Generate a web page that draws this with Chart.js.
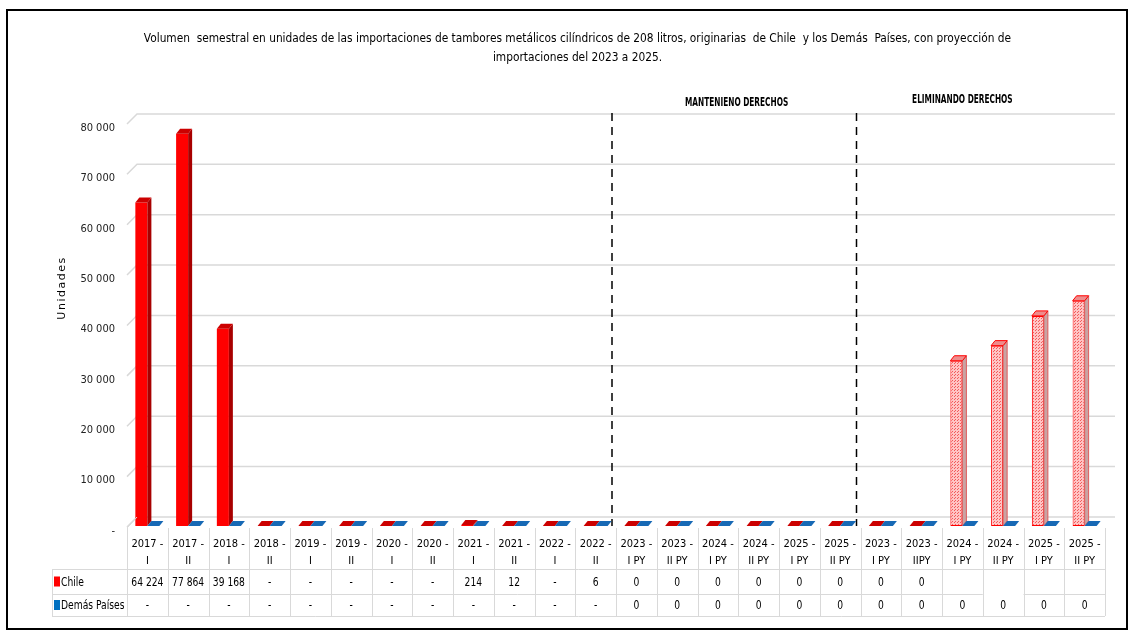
<!DOCTYPE html>
<html>
<head>
    <title>Importaciones tambores metálicos 208 litros</title>
    <script src="https://cdn.jsdelivr.net/npm/chart.js"></script>
    <style>
        body {
            margin: 0;
            background-color: #fff;
        }
        #wrap {
            position: relative;
            width: 1130px;
            height: 633px;
        }
    </style>
</head>
<body>
    <div id="wrap"><canvas id="chart" width="1130" height="633"></canvas></div>

    <script>
        // Categories (semesters), real + projection
        var categories = [
            ['2017 -', 'I'], ['2017 -', 'II'], ['2018 -', 'I'], ['2018 -', 'II'],
            ['2019 -', 'I'], ['2019 -', 'II'], ['2020 -', 'I'], ['2020 -', 'II'],
            ['2021 -', 'I'], ['2021 -', 'II'], ['2022 -', 'I'], ['2022 -', 'II'],
            ['2023 -', 'I PY'], ['2023 -', 'II PY'], ['2024 -', 'I PY'], ['2024 -', 'II PY'],
            ['2025 -', 'I PY'], ['2025 -', 'II PY'],
            ['2023 -', 'I PY'], ['2023 -', 'IIPY'], ['2024 -', 'I PY'], ['2024 -', 'II PY'],
            ['2025 -', 'I PY'], ['2025 -', 'II PY']
        ];

        // Bar values (units)
        var chileValues = [64224, 77864, 39168, 0, 0, 0, 0, 0, 214, 12, 0, 6,
                           0, 0, 0, 0, 0, 0, 0, 0, 32800, 35800, 41700, 44700];
        var demasValues = [0, 0, 0, 0, 0, 0, 0, 0, 0, 0, 0, 0,
                           0, 0, 0, 0, 0, 0, 0, 0, 0, 0, 0, 0];

        // Data table rows as printed under the chart
        var chileTable = ['64 224', '77 864', '39 168', '-', '-', '-', '-', '-', '214', '12', '-', '6',
                          '0', '0', '0', '0', '0', '0', '0', '0', '', '', '', ''];
        var demasTable = ['-', '-', '-', '-', '-', '-', '-', '-', '-', '-', '-', '-',
                          '0', '0', '0', '0', '0', '0', '0', '0', '0', '0', '0', '0'];

        // Projected (hatched) bars for Chile
        var projected = [20, 21, 22, 23];

        var yTicks = [0, 10000, 20000, 30000, 40000, 50000, 60000, 70000, 80000];

        var titleLines = [
            'Volumen  semestral en unidades de las importaciones de tambores metálicos cilíndricos de 208 litros, originarias  de Chile  y los Demás  Países, con proyección de',
            'importaciones del 2023 a 2025.'
        ];
        var sectionLabels = ['MANTENIENO DERECHOS', 'ELIMINANDO DERECHOS'];

        var narrow = '"DejaVu Sans Condensed", "Liberation Sans Narrow", Arial, sans-serif';

        var ctx = document.getElementById('chart').getContext('2d');

        // dotted pink pattern for projected bars
        var pc = document.createElement('canvas');
        pc.width = 3; pc.height = 3;
        var pctx = pc.getContext('2d');
        pctx.fillStyle = '#ffc4c4';
        pctx.fillRect(0, 0, 3, 3);
        pctx.fillStyle = '#f25a5a';
        pctx.fillRect(0, 0, 1, 1);
        pctx.fillRect(1, 2, 1, 1);
        var dotted = ctx.createPattern(pc, 'repeat');

        function fmt(v) {
            if (v === 0) return '-';
            return String(v).replace(/\B(?=(\d{3})+(?!\d))/g, ' ');
        }

        function isProj(i) {
            return projected.indexOf(i) !== -1;
        }

        var DX = 4, DY = 5;     // bar depth
        var WX = 10, WY = 9;    // wall depth

        function poly(c, pts, fill, stroke) {
            c.beginPath();
            c.moveTo(pts[0][0], pts[0][1]);
            for (var k = 1; k < pts.length; k++) c.lineTo(pts[k][0], pts[k][1]);
            c.closePath();
            c.fillStyle = fill;
            c.fill();
            if (stroke) {
                c.strokeStyle = stroke;
                c.lineWidth = 1;
                c.stroke();
            }
        }

        // text squeezed horizontally to look like the narrow font of the original
        function narrowText(c, txt, x, y, sx) {
            c.save();
            c.translate(x, y);
            c.scale(sx, 1);
            c.fillText(txt, 0, 0);
            c.restore();
        }

        var decor = {
            id: 'decor',
            beforeDatasetsDraw: function(chart) {
                var c = chart.ctx, a = chart.chartArea, y = chart.scales.y, x = chart.scales.x;
                c.save();
                // back wall grid
                c.strokeStyle = '#d9d9d9';
                c.lineWidth = 1.5;
                yTicks.forEach(function(t) {
                    var py = y.getPixelForValue(t);
                    c.beginPath();
                    c.moveTo(a.left, py + 1);
                    c.lineTo(a.left + WX, py - WY);
                    c.lineTo(a.right + WX, py - WY);
                    c.stroke();
                });
                // dashed dividers
                c.strokeStyle = '#000';
                c.lineWidth = 1.5;
                c.setLineDash([8, 6]);
                [11, 17].forEach(function(i) {
                    var px = (x.getPixelForValue(i) + x.getPixelForValue(i + 1)) / 2 - 4;
                    c.beginPath();
                    c.moveTo(px, a.top - 10);
                    c.lineTo(px, a.bottom);
                    c.stroke();
                });
                c.setLineDash([]);
                // section labels
                c.fillStyle = '#000';
                c.font = 'bold 13px ' + narrow;
                c.textAlign = 'center';
                c.textBaseline = 'middle';
                narrowText(c, sectionLabels[0], x.getPixelForValue(15) - 22, a.top - 20, 0.63);
                narrowText(c, sectionLabels[1], x.getPixelForValue(20), a.top - 23, 0.63);
                // axis title
                c.font = '11px "DejaVu Sans", Verdana, sans-serif';
                c.letterSpacing = '1.5px';
                c.save();
                c.translate(62, 288);
                c.rotate(-Math.PI / 2);
                c.fillText('Unidades', 0, 0);
                c.restore();
                c.letterSpacing = '0px';
                c.restore();
            },
            afterDatasetsDraw: function(chart) {
                var c = chart.ctx, x = chart.scales.x, a = chart.chartArea;
                c.save();
                // 3D faces of bars
                chart.getDatasetMeta(0).data.forEach(function(b, i) {
                    var l = b.x - b.width / 2, r = b.x + b.width / 2, t = b.y, bs = b.base;
                    if (isProj(i)) {
                        poly(c, [[r, bs], [r + DX, bs - DY], [r + DX, t - DY], [r, t]], '#c9a3a3', '#e05a5a');
                        poly(c, [[l, t], [r, t], [r + DX, t - DY], [l + DX, t - DY]], '#ee8c8c', '#ff0000');
                    } else {
                        poly(c, [[r, bs], [r + DX, bs - DY], [r + DX, t - DY], [r, t]], '#a80000');
                        poly(c, [[l, t], [r, t], [r + DX, t - DY], [l + DX, t - DY]], '#cc0000');
                    }
                });
                chart.getDatasetMeta(1).data.forEach(function(b) {
                    var l = b.x - b.width / 2, r = b.x + b.width / 2, t = b.y;
                    poly(c, [[l, t], [r, t], [r + DX, t - DY], [l + DX, t - DY]], '#1769b5');
                });

                // data table
                var top = a.bottom + 2, r1 = x.bottom - 2, r2 = r1 + 25, r3 = r2 + 22;
                var tl = 52, step = x.getPixelForValue(1) - x.getPixelForValue(0);
                c.strokeStyle = '#d9d9d9';
                c.lineWidth = 1;
                c.beginPath();
                for (var i = 0; i <= categories.length; i++) {
                    var bx = Math.round(x.getPixelForValue(0) - step / 2 + i * step) + 0.5;
                    c.moveTo(bx, top);
                    c.lineTo(bx, r3);
                }
                c.moveTo(tl + 0.5, r1);
                c.lineTo(tl + 0.5, r3);
                var right = x.getPixelForValue(categories.length - 1) + step / 2;
                c.moveTo(tl, r1 + 0.5); c.lineTo(right, r1 + 0.5);
                var g0 = x.getPixelForValue(21) - step / 2, g1 = x.getPixelForValue(21) + step / 2;
                c.moveTo(tl, r2 + 0.5); c.lineTo(g0, r2 + 0.5);
                c.moveTo(g1, r2 + 0.5); c.lineTo(right, r2 + 0.5);
                c.moveTo(tl, r3 + 0.5); c.lineTo(right, r3 + 0.5);
                c.stroke();
                // floor edge at the left
                c.beginPath();
                c.moveTo(a.left, top);
                c.lineTo(a.left + WX, top - WY - 2);
                c.stroke();

                c.font = '12px ' + narrow;
                c.textAlign = 'center';
                c.textBaseline = 'middle';
                c.fillStyle = '#000';
                for (var j = 0; j < categories.length; j++) {
                    var cx = x.getPixelForValue(j);
                    narrowText(c, chileTable[j], cx, (r1 + r2) / 2 + 1, 0.85);
                    narrowText(c, demasTable[j], cx, (r2 + r3) / 2 + 1, 0.85);
                }
                // legend keys
                c.textAlign = 'left';
                c.fillStyle = '#ff0000';
                c.fillRect(tl + 2, (r1 + r2) / 2 - 5, 6, 10);
                c.fillStyle = '#0070c0';
                c.fillRect(tl + 2, (r2 + r3) / 2 - 5, 6, 10);
                c.fillStyle = '#000';
                narrowText(c, 'Chile', tl + 9, (r1 + r2) / 2 + 1, 0.85);
                narrowText(c, 'Demás Países', tl + 9, (r2 + r3) / 2 + 1, 0.85);

                // outer frame
                c.strokeStyle = '#000';
                c.lineWidth = 2;
                c.strokeRect(7, 10, 1120, 619);
                c.restore();
            }
        };

        var chart = new Chart(ctx, {
            type: 'bar',
            data: {
                labels: categories,
                datasets: [{
                    label: 'Chile',
                    data: chileValues,
                    backgroundColor: function(context) {
                        return isProj(context.dataIndex) ? dotted : '#ff0000';
                    },
                    borderColor: '#ff0000',
                    borderWidth: function(context) {
                        return isProj(context.dataIndex) ? 1 : 0;
                    },
                    borderSkipped: false,
                    barPercentage: 1,
                    categoryPercentage: 0.59
                }, {
                    label: 'Demás Países',
                    data: demasValues,
                    backgroundColor: '#0070c0',
                    borderWidth: 0,
                    barPercentage: 1,
                    categoryPercentage: 0.59
                }]
            },
            options: {
                responsive: false,
                animation: false,
                layout: {
                    padding: { left: 50, right: 25, top: 29, bottom: 62 }
                },
                plugins: {
                    legend: { display: false },
                    tooltip: { enabled: false },
                    title: {
                        display: true,
                        text: titleLines,
                        color: '#000',
                        font: { family: narrow, size: 11.8, weight: 'normal', lineHeight: 1.65 },
                        padding: { top: 0, bottom: 55 }
                    }
                },
                scales: {
                    x: {
                        grid: { display: false, drawTicks: false },
                        border: { display: false },
                        ticks: {
                            color: '#000',
                            font: { family: narrow, size: 11, lineHeight: 1.5 },
                            autoSkip: false,
                            maxRotation: 0,
                            padding: 10
                        },
                        afterFit: function(s) { s.height = 45; }
                    },
                    y: {
                        min: 0,
                        max: 80000,
                        grid: { display: false, drawTicks: false },
                        border: { display: false },
                        ticks: {
                            stepSize: 10000,
                            color: '#222',
                            font: { family: narrow, size: 11 },
                            padding: 12,
                            labelOffset: 5,
                            callback: function(v) { return fmt(v); }
                        },
                        afterFit: function(s) { s.width = 77; }
                    }
                }
            },
            plugins: [decor]
        });
    </script>
</body>
</html>
